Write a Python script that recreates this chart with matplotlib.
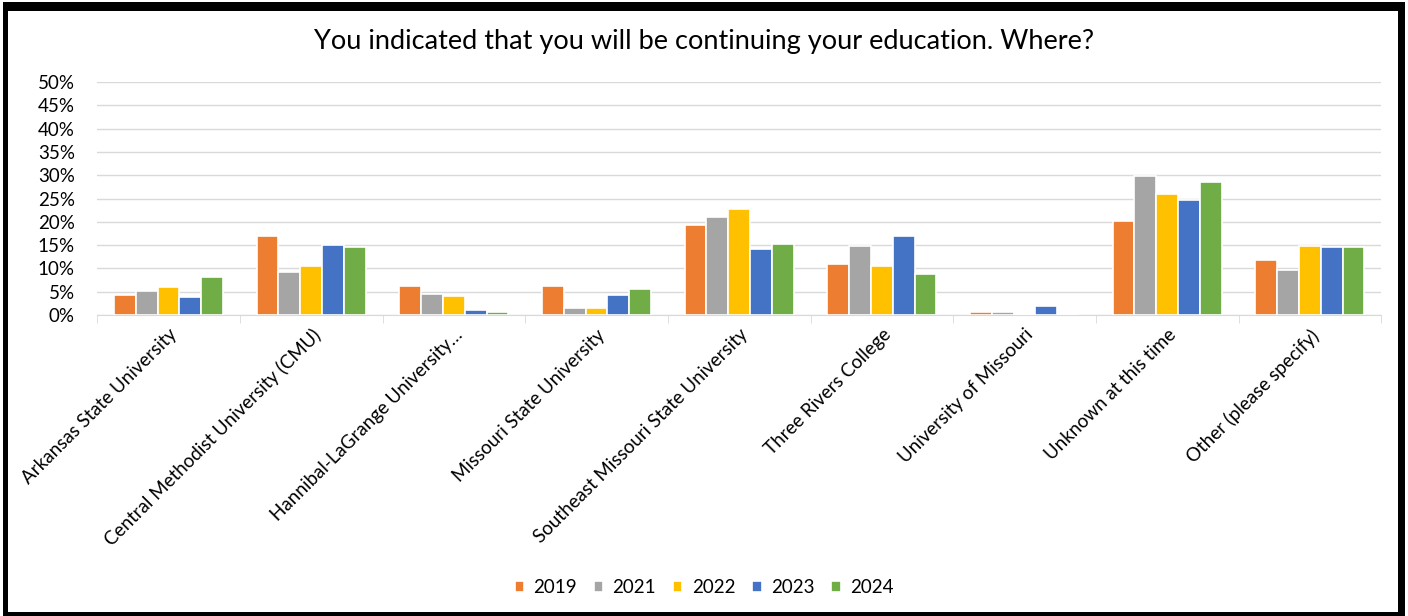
import matplotlib.pyplot as plt
import numpy as np
from matplotlib.patches import Rectangle
from matplotlib.ticker import PercentFormatter, MultipleLocator

plt.rcParams['font.family'] = ['Lato', 'DejaVu Sans']

categories = ['Arkansas State University', 'Central Methodist University (CMU)',
              'Hannibal-LaGrange University…', 'Missouri State University',
              'Southeast Missouri State University', 'Three Rivers College',
              'University of Missouri', 'Unknown at this time', 'Other (please specify)']
years = ['2019', '2021', '2022', '2023', '2024']
v2019 = [4.3, 16.9, 6.2, 6.2, 19.3, 10.9, 0.6, 20.2, 11.9]
v2021 = [5.1, 9.2, 4.6, 1.5, 21.1, 14.8, 0.6, 29.9, 9.7]
v2022 = [6.0, 10.5, 4.1, 1.6, 22.7, 10.5, 0.3, 25.9, 14.9]
v2023 = [3.9, 15.0, 1.1, 4.3, 14.1, 16.9, 2.0, 24.8, 14.5]
v2024 = [8.2, 14.6, 0.6, 5.5, 15.2, 8.8, 0.0, 28.6, 14.6]
colors = ['#ED7D31', '#A5A5A5', '#FFC000', '#4472C4', '#70AD47']

W, H = 1408, 616
fig = plt.figure(figsize=(W / 100, H / 100), dpi=100)
ax = fig.add_axes([0.069, 0.4886, 0.912, 0.378])

x = np.arange(len(categories))
width = 0.153
series = [v2019, v2021, v2022, v2023, v2024]
for i, (vals, yr, c) in enumerate(zip(series, years, colors)):
    ax.bar(x + (i - 2) * width, vals, width, color=c, edgecolor='white',
           linewidth=1.2, label=yr, zorder=3)

ax.set_xlim(-0.5, len(categories) - 0.5)
ax.set_ylim(0, 50)
ax.yaxis.set_major_locator(MultipleLocator(5))
ax.yaxis.set_major_formatter(PercentFormatter(decimals=0))
ax.grid(axis='y', color='#d9d9d9', linewidth=1, zorder=0)
for s in ['top', 'right', 'left']:
    ax.spines[s].set_visible(False)
ax.spines['bottom'].set_color('#d9d9d9')
ax.tick_params(axis='y', length=0, labelsize=13.5, pad=16)

ax.set_xticks(x)
ax.set_xticklabels(categories, rotation=45, ha='right', rotation_mode='anchor', fontsize=13.5)
ax.tick_params(axis='x', length=0, pad=8)
ax.set_xticks(np.arange(-0.5, len(categories)), minor=True)
ax.tick_params(axis='x', which='minor', length=6, color='#d9d9d9')

fig.text(0.5, 1 - 42 / H, 'You indicated that you will be continuing your education. Where?',
         fontsize=19.5, ha='center', va='center')

fig.legend(loc='lower center', bbox_to_anchor=(0.5, 0.005), ncol=5, frameon=False,
           fontsize=13.5, handlelength=0.5, handleheight=0.5, columnspacing=0.9,
           handletextpad=0.5)

# black frame around the chart (pixel coordinates, y from the top)
def frame_bar(x0, y0, x1, y1):
    fig.patches.append(Rectangle((x0 / W, 1 - y1 / H), (x1 - x0) / W, (y1 - y0) / H,
                                 transform=fig.transFigure, facecolor='black',
                                 edgecolor='none'))

frame_bar(3, 2, 1405, 11)
frame_bar(3, 2, 8, 616)
frame_bar(1398, 2, 1405, 616)
frame_bar(3, 612, 1405, 616)

plt.savefig('out.png', dpi=100)
